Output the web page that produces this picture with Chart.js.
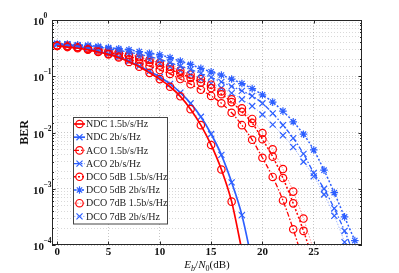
<!DOCTYPE html>
<html><head><meta charset="utf-8">
<script src="https://cdn.jsdelivr.net/npm/chart.js@4/dist/chart.umd.min.js"></script>
<style>html,body{margin:0;padding:0;background:#fff;}</style>
</head><body>
<canvas id="c" width="399" height="273"></canvas>
<script>
// ---- data ----
const snr = [0,1,2,3,4,5,6,7,8,9,10,11,12,13,14,15,16,17,18,19,20,21,22,23,24,25,26,27,28,29];
const ndc15 = [0.345,0.33,0.315,0.295,0.27,0.245,0.215,0.18,0.148,0.115,0.089,0.065,0.044,0.026,0.0135,0.006,0.0022,5.9e-4,8e-5];
const ndc2 = [0.37,0.355,0.34,0.315,0.28,0.25,0.22,0.185,0.152,0.122,0.097,0.073,0.051,0.033,0.019,0.0094,0.004,0.0013,3.4e-4,5e-5];
const aco15 = [0.347,0.339,0.324,0.302,0.275,0.251,0.224,0.2,0.174,0.151,0.129,0.11,0.0891,0.0724,0.0575,0.0447,0.0331,0.0224,0.0135,0.00741,0.00355,0.00162,6.2e-4,1.9e-4,5e-5];
const aco2 = [0.38,0.372,0.355,0.347,0.331,0.309,0.288,0.269,0.245,0.224,0.2,0.174,0.151,0.132,0.112,0.0955,0.0794,0.0661,0.055,0.0447,0.0331,0.0219,0.0135,0.00794,0.00417,0.00191,0.001,4.47e-4,1.78e-4,6.3e-5];
const dco5_15 = [0.355,0.347,0.331,0.309,0.288,0.269,0.245,0.224,0.2,0.178,0.155,0.132,0.112,0.0933,0.0776,0.0617,0.0479,0.0347,0.0234,0.0148,0.00759,0.00372,0.00155,5.5e-4,1.78e-4,5e-5];
const dco5_2 = [0.38,0.372,0.363,0.355,0.339,0.324,0.309,0.295,0.275,0.257,0.24,0.214,0.186,0.162,0.138,0.12,0.105,0.0891,0.0741,0.0603,0.0468,0.0347,0.024,0.0155,0.00933,0.0049,0.00214,8.5e-4,3.16e-4,1.2e-4];
const dco7_15 = [0.355,0.347,0.331,0.316,0.302,0.282,0.263,0.24,0.219,0.195,0.174,0.148,0.126,0.107,0.0891,0.0708,0.0537,0.0389,0.0269,0.0174,0.00977,0.00501,0.00224,8.9e-4,2.95e-4,7.9e-5];
const dco7_2 = [0.372,0.363,0.347,0.331,0.316,0.295,0.269,0.245,0.219,0.195,0.17,0.148,0.126,0.107,0.0891,0.0741,0.0617,0.0501,0.0389,0.0295,0.0209,0.0138,0.00891,0.0055,0.00302,0.00166,7.9e-4,3.3e-4,1.12e-4,3e-5];
const seriesLabels = ['NDC 1.5b/s/Hz','NDC 2b/s/Hz','ACO 1.5b/s/Hz','ACO 2b/s/Hz','DCO 5dB 1.5b/s/Hz','DCO 5dB 2b/s/Hz','DCO 7dB 1.5b/s/Hz','DCO 7dB 2b/s/Hz'];
const xTickValues = [0,5,10,15,20,25];
const xTickLabels = ['0','5','10','15','20','25'];
const yTickValues = [1,1e-1,1e-2,1e-3,1e-4];
const yTickExps = ['0','\u22121','\u22122','\u22123','\u22124'];
const yTitle = 'BER';

// ---- styles ----
const RED = 'rgb(255,0,0)', BLUE = 'rgb(45,95,255)';
const RED_L = 'rgba(255,0,0,0.55)', BLUE_L = 'rgba(45,95,255,0.55)';
function ds(label, vals, color, lineColor, width, dash, pstyle, pr) {
  return {
    label, data: vals.map((v,i)=>({x:snr[i], y:v})),
    borderColor: lineColor, borderWidth: width, borderDash: dash,
    pointStyle: pstyle, pointRadius: pr, pointBorderColor: color,
    pointBackgroundColor: 'rgba(0,0,0,0)', pointBorderWidth: 1.2,
    cubicInterpolationMode: 'monotone', fill: false
  };
}
const datasets = [
  ds(seriesLabels[0], ndc15, RED, RED, 1.7, [], 'circle', 3.7),
  ds(seriesLabels[1], ndc2, BLUE, BLUE, 1.7, [], 'crossRot', 4.3),
  ds(seriesLabels[2], aco15, RED, RED, 1.3, [5,2,1.5,2], 'circle', 3.7),
  ds(seriesLabels[3], aco2, BLUE, BLUE, 1.3, [5,2,1.5,2], 'crossRot', 4.3),
  ds(seriesLabels[4], dco5_15, RED, RED, 1.5, [2,2], 'circle', 3.7),
  ds(seriesLabels[5], dco5_2, BLUE, BLUE, 1.5, [2,2], 'star', 3.8),
  ds(seriesLabels[6], dco7_15, RED, RED_L, 0.8, [1.5,1.5], 'circle', 3.7),
  ds(seriesLabels[7], dco7_2, BLUE, BLUE_L, 0.8, [1.5,1.5], 'crossRot', 4.3)
];

const SERIF = '"Liberation Serif", "Times New Roman", serif';

const decor = {
  id: 'decor',
  afterDatasetsDraw(chart) {
    const ctx = chart.ctx, a = chart.chartArea;
    const xs = chart.scales.x, ys = chart.scales.y;
    ctx.save();
    // frame
    ctx.strokeStyle = '#262626'; ctx.lineWidth = 1; ctx.setLineDash([]);
    ctx.strokeRect(Math.round(a.left)+0.5, Math.round(a.top)+0.5, Math.round(a.right-a.left)-1, Math.round(a.bottom-a.top)-1);
    // inward ticks
    ctx.beginPath();
    xTickValues.forEach(v => {
      const px = Math.round(xs.getPixelForValue(v))+0.5;
      ctx.moveTo(px, a.bottom); ctx.lineTo(px, a.bottom-3.5);
      ctx.moveTo(px, a.top); ctx.lineTo(px, a.top+3.5);
    });
    ys.ticks.forEach(t => {
      const py = Math.round(ys.getPixelForValue(t.value))+0.5;
      const L = t.major ? 3.5 : 2;
      ctx.moveTo(a.left, py); ctx.lineTo(a.left+L, py);
      ctx.moveTo(a.right, py); ctx.lineTo(a.right-L, py);
    });
    ctx.stroke();
    // x tick labels
    ctx.fillStyle = '#111';
    ctx.font = 'bold 11px ' + SERIF;
    ctx.textAlign = 'center'; ctx.textBaseline = 'alphabetic';
    xTickValues.forEach((v,i) => ctx.fillText(xTickLabels[i], xs.getPixelForValue(v), 254.5));
    // y tick labels 10^k
    yTickValues.forEach((v,i) => {
      const py = ys.getPixelForValue(v);
      ctx.textAlign = 'left';
      ctx.font = 'bold 11px ' + SERIF;
      ctx.fillText('10', 33, py+5);
      ctx.font = 'bold 7.5px ' + SERIF;
      ctx.fillText(yTickExps[i], 43.5, py-2);
    });
    // y title
    ctx.save();
    ctx.translate(25, (a.top+a.bottom)/2);
    ctx.rotate(-Math.PI/2);
    ctx.font = 'bold 12px ' + SERIF;
    ctx.textAlign = 'center'; ctx.textBaseline = 'middle';
    ctx.fillText(yTitle, 0, 0);
    ctx.restore();
    // x title E_b/N_0(dB)
    const parts = [
      {t:'E', f:'italic 11px '+SERIF, dy:0},
      {t:'b', f:'italic 8px '+SERIF, dy:2.5},
      {t:'/', f:'11px '+SERIF, dy:0},
      {t:'N', f:'italic 11px '+SERIF, dy:0},
      {t:'0', f:'8px '+SERIF, dy:2.5},
      {t:'(dB)', f:'11px '+SERIF, dy:0}
    ];
    let w = 0;
    parts.forEach(p => { ctx.font = p.f; p.w = ctx.measureText(p.t).width; w += p.w; });
    let cx = (a.left+a.right)/2 - w/2;
    ctx.textAlign = 'left';
    parts.forEach(p => { ctx.font = p.f; ctx.fillText(p.t, cx, 268 + p.dy); cx += p.w; });
    // legend
    const bx = 73.5, by = 117.5, bw = 94, bh = 106.5;
    ctx.fillStyle = '#fff';
    ctx.fillRect(bx, by, bw, bh);
    ctx.strokeStyle = '#444'; ctx.lineWidth = 1;
    ctx.strokeRect(bx, by, bw, bh);
    chart.data.datasets.forEach((d, i) => {
      const yy = 124 + i*13.2;
      ctx.save();
      ctx.strokeStyle = d.borderColor; ctx.lineWidth = d.borderWidth;
      ctx.setLineDash(d.borderDash || []);
      ctx.beginPath(); ctx.moveTo(74, yy); ctx.lineTo(85, yy); ctx.stroke();
      ctx.setLineDash([]);
      ctx.strokeStyle = d.pointBorderColor; ctx.lineWidth = d.pointBorderWidth;
      ctx.fillStyle = 'rgba(0,0,0,0)';
      Chart.helpers.drawPoint(ctx, {pointStyle: d.pointStyle, radius: d.pointRadius, rotation: 0, borderWidth: d.pointBorderWidth}, 79.5, yy);
      ctx.restore();
      ctx.fillStyle = '#222';
      ctx.font = '10px ' + SERIF;
      ctx.textAlign = 'left'; ctx.textBaseline = 'middle';
      ctx.fillText(d.label, 86, yy+0.5);
    });
    ctx.restore();
  }
};

new Chart(document.getElementById('c'), {
  type: 'line',
  data: { datasets },
  options: {
    responsive: false, animation: false, devicePixelRatio: 1,
    layout: { padding: { top: 20, right: 37, left: 0, bottom: 0 } },
    plugins: { legend: { display: false }, tooltip: { enabled: false } },
    scales: {
      x: {
        type: 'linear', min: -0.5, max: 29.7,
        afterFit(s) { s.height = 28; },
        afterBuildTicks(s) { s.ticks = xTickValues.map(v => ({value: v})); },
        ticks: { display: false },
        grid: { color: 'rgba(0,0,0,0.22)', lineWidth: 1, drawTicks: false },
        border: { display: false, dash: [1,2] }
      },
      y: {
        type: 'logarithmic', min: 1e-4, max: 1,
        afterFit(s) { s.width = 52; },
        ticks: { display: false, autoSkip: false },
        grid: { color: (c) => (c.tick && c.tick.major) ? 'rgba(0,0,0,0.22)' : 'rgba(0,0,0,0.15)', lineWidth: 1, drawTicks: false },
        border: { display: false, dash: [1,2] }
      }
    }
  },
  plugins: [decor]
});
</script>
</body></html>
